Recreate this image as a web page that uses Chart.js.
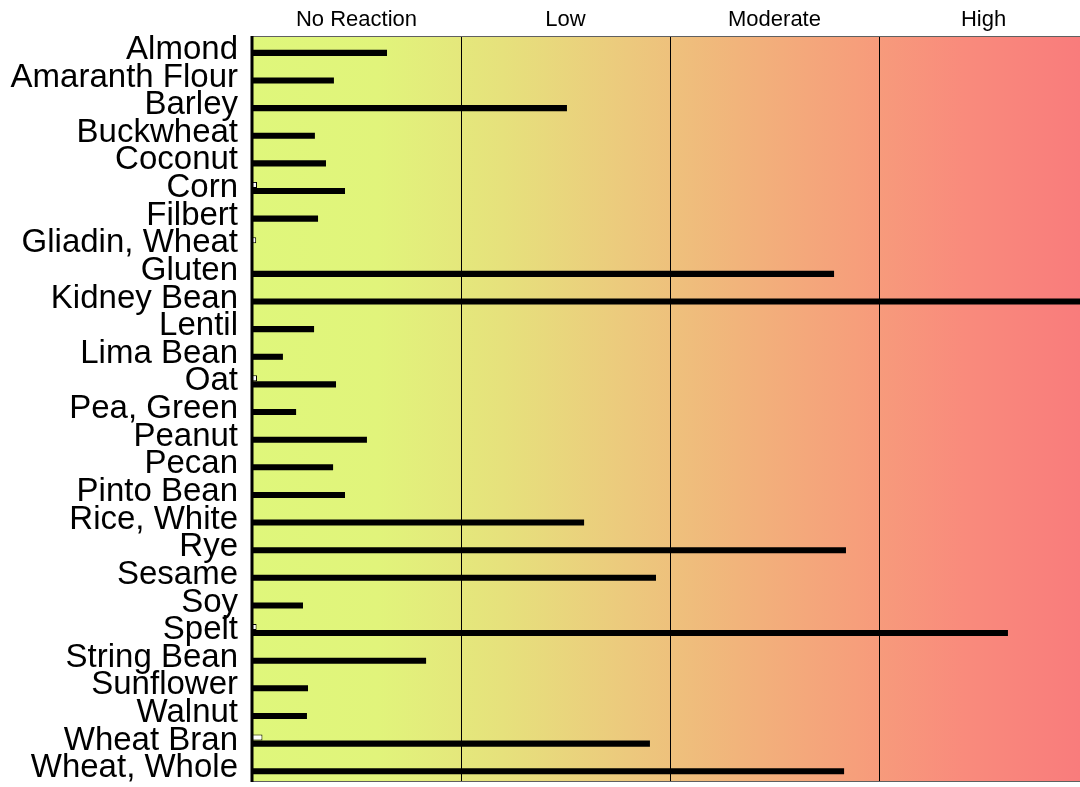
<!DOCTYPE html>
<html>
<head>
<meta charset="utf-8">
<script src="https://cdn.jsdelivr.net/npm/chart.js@4.4.1/dist/chart.umd.min.js"></script>
<style>
  html, body { margin: 0; padding: 0; background: #ffffff; overflow: hidden; width: 1080px; height: 787px; }
  #wrap { position: relative; width: 1088px; height: 787px; }
</style>
</head>
<body>
<div id="wrap"><canvas id="c"></canvas></div>
<script>
const categories = [
  'Almond', 'Amaranth Flour', 'Barley', 'Buckwheat', 'Coconut', 'Corn', 'Filbert',
  'Gliadin, Wheat', 'Gluten', 'Kidney Bean', 'Lentil', 'Lima Bean', 'Oat', 'Pea, Green',
  'Peanut', 'Pecan', 'Pinto Bean', 'Rice, White', 'Rye', 'Sesame', 'Soy', 'Spelt',
  'String Bean', 'Sunflower', 'Walnut', 'Wheat Bran', 'Wheat, Whole'
];
// reaction level in zone units (0-4)
const reactionValues = [
  0.646, 0.392, 1.507, 0.301, 0.354, 0.445, 0.316,
  0, 2.785, 4.0, 0.297, 0.148, 0.402, 0.211,
  0.550, 0.388, 0.445, 1.589, 2.842, 1.933, 0.244, 3.617,
  0.833, 0.268, 0.263, 1.904, 2.833
];
const controlValues = [
  0, 0.005, 0, 0, 0, 0.024, 0,
  0.02, 0.005, 0.005, 0, 0, 0.024, 0,
  0, 0, 0, 0, 0.005, 0.005, 0, 0.022,
  0.005, 0, 0, 0.05, 0.005
];
const zoneLabels = ['No Reaction', 'Low', 'Moderate', 'High'];
const zoneBounds = [0, 1, 2, 3, 4];

const framePlugin = {
  id: 'frame',
  beforeDatasetsDraw(chart) {
    const {ctx, chartArea: a, scales} = chart;
    ctx.save();
    const g = ctx.createLinearGradient(a.left, 0, a.right, 0);
    g.addColorStop(0.00, '#dff77b');
    g.addColorStop(0.15, '#e1f47b');
    g.addColorStop(0.30, '#e6e17c');
    g.addColorStop(0.45, '#ecc97d');
    g.addColorStop(0.58, '#f1b47b');
    g.addColorStop(0.72, '#f69f7b');
    g.addColorStop(0.85, '#f98b7c');
    g.addColorStop(1.00, '#f97b7c');
    ctx.fillStyle = g;
    ctx.fillRect(a.left, a.top, a.right - a.left, a.bottom - a.top);
    ctx.strokeStyle = '#000000';
    ctx.lineWidth = 1;
    for (let i = 1; i < zoneBounds.length - 1; i++) {
      const x = Math.round(scales.x.getPixelForValue(zoneBounds[i])) + 0.5;
      ctx.beginPath();
      ctx.moveTo(x, a.top);
      ctx.lineTo(x, a.bottom);
      ctx.stroke();
    }
    ctx.restore();
  },
  afterDatasetsDraw(chart) {
    const {ctx, chartArea: a} = chart;
    ctx.save();
    ctx.strokeStyle = '#606060';
    ctx.lineWidth = 1;
    ctx.beginPath();
    ctx.moveTo(a.left, a.top + 0.5); ctx.lineTo(a.right, a.top + 0.5);
    ctx.moveTo(a.left, a.bottom - 0.5); ctx.lineTo(a.right, a.bottom - 0.5);
    ctx.stroke();
    ctx.strokeStyle = '#000000';
    ctx.lineWidth = 3;
    ctx.beginPath();
    ctx.moveTo(a.left, a.top); ctx.lineTo(a.left, a.bottom);
    ctx.stroke();
    ctx.restore();
  }
};

new Chart(document.getElementById('c'), {
  type: 'bar',
  data: {
    labels: categories,
    datasets: [
      {
        label: 'Control',
        data: controlValues,
        backgroundColor: '#ffffff',
        borderColor: '#000000',
        borderWidth: 1,
        borderSkipped: false
      },
      {
        label: 'Reaction',
        data: reactionValues,
        backgroundColor: '#000000',
        borderWidth: 0
      }
    ]
  },
  options: {
    indexAxis: 'y',
    responsive: true,
    maintainAspectRatio: false,
    animation: false,
    layout: { padding: { top: 0, right: 0, bottom: 5, left: 0 } },
    categoryPercentage: 0.44,
    barPercentage: 1.0,
    plugins: { legend: { display: false }, tooltip: { enabled: false } },
    scales: {
      x: {
        type: 'linear',
        min: zoneBounds[0],
        max: zoneBounds[zoneBounds.length - 1],
        display: false
      },
      x2: {
        type: 'linear',
        position: 'top',
        min: zoneBounds[0],
        max: zoneBounds[zoneBounds.length - 1],
        grid: { display: false, drawTicks: false },
        border: { display: false },
        afterBuildTicks(scale) {
          scale.ticks = zoneLabels.map((_, i) => ({ value: (zoneBounds[i] + zoneBounds[i + 1]) / 2 }));
        },
        afterFit(scale) { scale.height = 36; scale.paddingLeft = 0; scale.paddingRight = 0; },
        ticks: {
          autoSkip: false,
          maxRotation: 0,
          padding: 3,
          color: '#000000',
          font: { family: 'Liberation Sans, Arial, sans-serif', size: 22 },
          callback(value, index) { return zoneLabels[index]; }
        }
      },
      y: {
        type: 'category',
        grid: { display: false, drawTicks: false },
        border: { display: false },
        afterFit(scale) { scale.width = 252; scale.paddingTop = 0; scale.paddingBottom = 0; },
        ticks: {
          autoSkip: false,
          padding: 14,
          color: '#000000',
          font: { family: 'Liberation Sans, Arial, sans-serif', size: 33 }
        }
      }
    }
  },
  plugins: [framePlugin]
});
</script>
</body>
</html>
